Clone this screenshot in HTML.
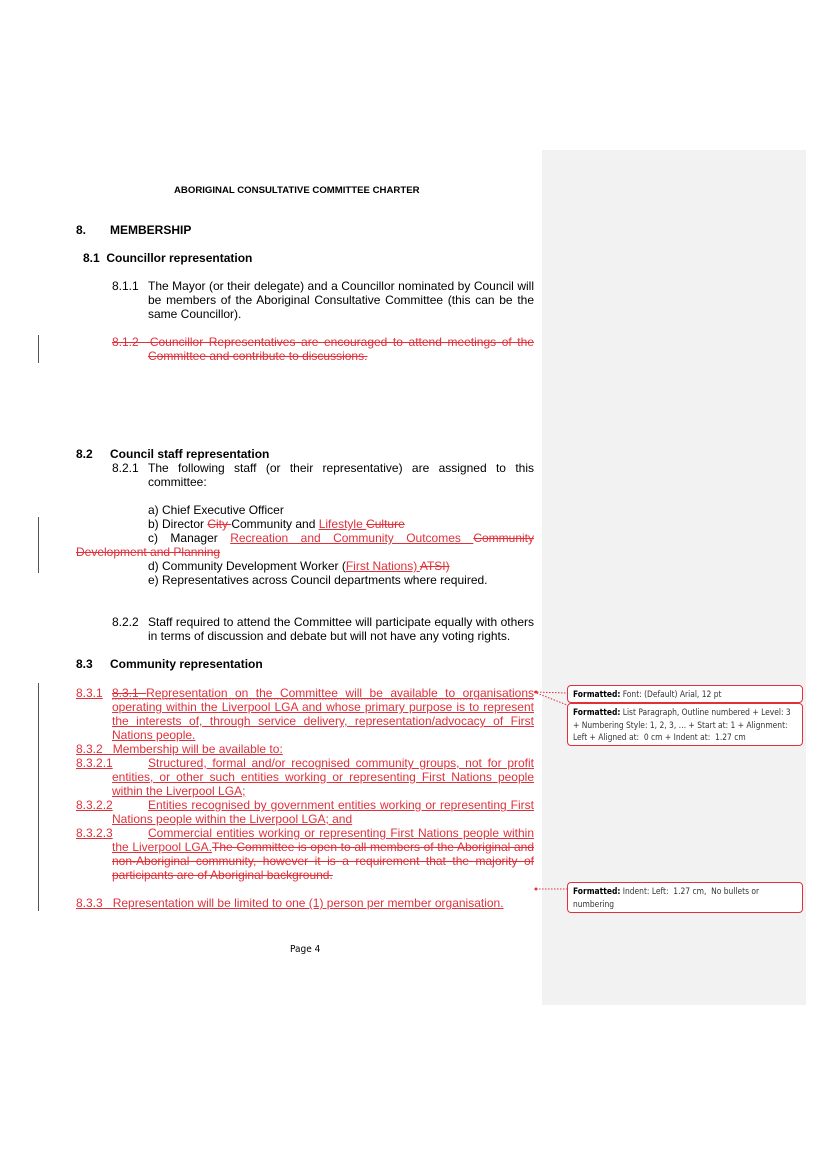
<!DOCTYPE html>
<html><head><meta charset="utf-8"><style>
body{margin:0;width:816px;height:1155px;background:#fff;position:relative;font-family:"Liberation Sans",Arial,sans-serif;overflow:hidden}
.l{position:absolute;font-size:12px;line-height:14px;white-space:nowrap;color:#000}
.j{text-align:justify;text-align-last:justify;white-space:normal}
.b{font-weight:bold}
.r{color:#e0313b}
.u{text-decoration:underline}
.s{text-decoration:line-through}
.bar{position:absolute;left:38px;width:1px;background:#555}
.panel{position:absolute;left:542px;top:150px;width:264px;height:855px;background:#f2f2f2}
.box{position:absolute;left:567px;width:224px;border:1.3px solid #e0313b;border-radius:4px;background:#fff;font-family:"DejaVu Sans Condensed","Liberation Sans",sans-serif;font-size:8.4px;line-height:12.5px;padding:2px 5px;color:#333}
.box b{color:#000}
</style></head><body>
<div class="panel"></div>
<div class="l b" style="left:174px;top:184px;font-size:9.6px">ABORIGINAL CONSULTATIVE COMMITTEE CHARTER</div>
<div class="l b" style="left:76px;top:223px">8.</div><div class="l b" style="left:110px;top:223px">MEMBERSHIP</div>
<div class="l b" style="left:83px;top:251px">8.1&nbsp; Councillor representation</div>
<div class="l" style="left:112px;top:279px">8.1.1</div>
<div class="l j" style="left:148px;top:279px;width:386px">The Mayor (or their delegate) and a Councillor nominated by Council will</div>
<div class="l j" style="left:148px;top:293px;width:386px">be members of the Aboriginal Consultative Committee (this can be the</div>
<div class="l" style="left:148px;top:307px">same Councillor).</div>
<div class="bar" style="top:335px;height:28px"></div>
<div class="l j r s" style="left:112px;top:335px;width:422px">8.1.2&nbsp; Councillor Representatives are encouraged to attend meetings of the</div>
<div class="l r s" style="left:148px;top:349px">Committee and contribute to discussions.</div>
<div class="l b" style="left:76px;top:447px">8.2</div><div class="l b" style="left:110px;top:447px">Council staff representation</div>
<div class="l" style="left:112px;top:461px">8.2.1</div>
<div class="l j" style="left:148px;top:461px;width:386px">The following staff (or their representative) are assigned to this</div>
<div class="l" style="left:148px;top:475px">committee:</div>
<div class="l" style="left:148px;top:503px">a) Chief Executive Officer</div>
<div class="bar" style="top:517px;height:56px"></div>
<div class="l" style="left:148px;top:517px">b) Director <span class="r s">City </span>Community and <span class="r u">Lifestyle </span><span class="r s">Culture</span></div>
<div class="l j" style="left:148px;top:531px;width:386px">c) Manager <span class="r u">Recreation and Community Outcomes </span><span class="r s">Community</span></div>
<div class="l r s" style="left:76px;top:545px">Development and Planning</div>
<div class="l" style="left:148px;top:559px">d) Community Development Worker (<span class="r u">First Nations) </span><span class="r s">ATSI)</span></div>
<div class="l" style="left:148px;top:573px">e) Representatives across Council departments where required.</div>
<div class="l" style="left:112px;top:615px">8.2.2</div>
<div class="l j" style="left:148px;top:615px;width:386px">Staff required to attend the Committee will participate equally with others</div>
<div class="l" style="left:148px;top:629px">in terms of discussion and debate but will not have any voting rights.</div>
<div class="l b" style="left:76px;top:657px">8.3</div><div class="l b" style="left:110px;top:657px">Community representation</div>
<div class="bar" style="top:683px;height:228px"></div>
<div class="l r u" style="left:76px;top:686px">8.3.1</div>
<div class="l j r u" style="left:112px;top:686px;width:422px"><span class="s">8.3.1 </span> Representation on the Committee will be available to organisations</div>
<div class="l j r u" style="left:112px;top:700px;width:422px">operating within the Liverpool LGA and whose primary purpose is to represent</div>
<div class="l j r u" style="left:112px;top:714px;width:422px">the interests of, through service delivery, representation/advocacy of First</div>
<div class="l r u" style="left:112px;top:728px">Nations people.</div>
<div class="l r u" style="left:76px;top:742px">8.3.2&nbsp;&nbsp; Membership will be available to:</div>
<div class="l r u" style="left:76px;top:756px">8.3.2.1</div>
<div class="l j r u" style="left:148px;top:756px;width:386px">Structured, formal and/or recognised community groups, not for profit</div>
<div class="l j r u" style="left:112px;top:770px;width:422px">entities, or other such entities working or representing First Nations people</div>
<div class="l r u" style="left:112px;top:784px">within the Liverpool LGA;</div>
<div class="l r u" style="left:76px;top:798px">8.3.2.2</div>
<div class="l j r u" style="left:148px;top:798px;width:386px">Entities recognised by government entities working or representing First</div>
<div class="l r u" style="left:112px;top:812px">Nations people within the Liverpool LGA; and</div>
<div class="l r u" style="left:76px;top:826px">8.3.2.3</div>
<div class="l j r u" style="left:148px;top:826px;width:386px">Commercial entities working or representing First Nations people within</div>
<div class="l j r" style="left:112px;top:840px;width:422px"><span class="u">the Liverpool LGA.</span><span class="s">The Committee is open to all members of the Aboriginal and</span></div>
<div class="l j r s" style="left:112px;top:854px;width:422px">non-Aboriginal community, however it is a requirement that the majority of</div>
<div class="l r s" style="left:112px;top:868px">participants are of Aboriginal background.</div>
<div class="l r u" style="left:76px;top:896px">8.3.3&nbsp;&nbsp; Representation will be limited to one (1) person per member organisation.</div>
<div class="l" style="left:290px;top:943px;font-size:10px;font-family:'DejaVu Sans Condensed','Liberation Sans',sans-serif">Page 4</div>
<svg style="position:absolute;left:0;top:0" width="816" height="1155">
<g stroke="#e0313b" stroke-width="1" stroke-dasharray="1.5,1.5" fill="none">
<line x1="534" y1="692" x2="567" y2="693"/>
<line x1="534" y1="692" x2="567" y2="705"/>
<line x1="112" y1="699" x2="534" y2="699"/>
<line x1="536" y1="889" x2="567" y2="889"/>
</g>
<circle cx="536" cy="692" r="1.5" fill="#e0313b"/>
<circle cx="536" cy="889" r="1.5" fill="#e0313b"/>
</svg>
<div class="box" style="top:685px;height:12px"><b>Formatted:</b> Font: (Default) Arial, 12 pt</div>
<div class="box" style="top:703px;height:37px"><b>Formatted:</b> List Paragraph, Outline numbered + Level: 3 + Numbering Style: 1, 2, 3, … + Start at: 1 + Alignment: Left + Aligned at:&nbsp; 0 cm + Indent at:&nbsp; 1.27 cm</div>
<div class="box" style="top:882px;height:25px"><b>Formatted:</b> Indent: Left:&nbsp; 1.27 cm,&nbsp; No bullets or numbering</div>
</body></html>
